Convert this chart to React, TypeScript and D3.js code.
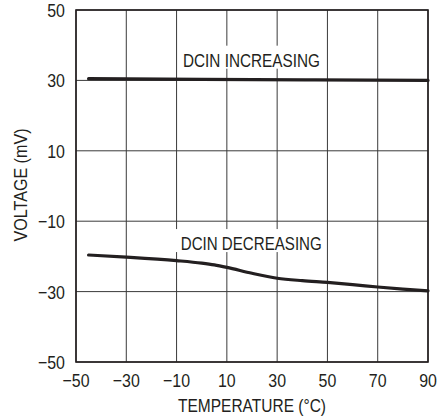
import React from "react";
import * as d3 from "d3";

const xTicks = [-50, -30, -10, 10, 30, 50, 70, 90];
const yTicks = [50, 30, 10, -10, -30, -50];

const incTemp = [-45, 0, 45, 90];
const incVolt = [30.5, 30.3, 30.15, 30.0];

const decTemp = [-45, -30, -10, 0, 5, 10, 20, 30, 40, 50, 60, 70, 80, 90];
const decVolt = [-19.6, -20.2, -21.2, -21.9, -22.4, -23.1, -24.8, -26.2, -26.9, -27.4, -28.0, -28.7, -29.3, -29.8];

const labels = [
  { text: "DCIN INCREASING", t: 19.8, v: 33.9, len: 137 },
  { text: "DCIN DECREASING", t: 19.7, v: -18.2, len: 141 },
];

const FONT = "'Liberation Sans', Arial, sans-serif";
const INK = "#231f20";
const SX = 0.84;

function T(props: { x: number; y: number; anchor?: string; sx?: number; children: React.ReactNode }) {
  const sx = props.sx ?? SX;
  return (
    <text
      transform={`translate(${props.x},${props.y}) scale(${sx},1)`}
      textAnchor={props.anchor ?? "middle"}
      fontSize={19}
      fill={INK}
    >
      {props.children}
    </text>
  );
}

const fmt = (t: number) => (t < 0 ? "\u2212" + Math.abs(t) : String(t));

export default function App() {
  const W = 439, H = 420;
  const left = 76, right = 428, top = 10, bottom = 362;
  const x = d3.scaleLinear().domain([-50, 90]).range([left, right]);
  const y = d3.scaleLinear().domain([-50, 50]).range([bottom, top]);
  const incPath = d3.line<number>().x((_, i) => x(incTemp[i])).y((d) => y(d)).curve(d3.curveMonotoneX)(incVolt) || "";
  const decPath = d3.line<number>().x((_, i) => x(decTemp[i])).y((d) => y(d)).curve(d3.curveMonotoneX)(decVolt) || "";
  return (
    <svg width={W} height={H} style={{ position: "absolute", left: 0, top: 0, background: "#fff" }} fontFamily={FONT}>
      <rect x={0} y={0} width={W} height={H} fill="#fff" />
      {xTicks.map((t) => (
        <line key={"gx" + t} x1={x(t)} x2={x(t)} y1={top} y2={bottom} stroke="#3a3a3a" strokeWidth={1} />
      ))}
      {yTicks.map((t) => (
        <line key={"gy" + t} x1={left} x2={right} y1={y(t)} y2={y(t)} stroke="#3a3a3a" strokeWidth={1} />
      ))}
      {labels.map((l) => (
        <g key={l.text}>
          <rect x={x(l.t) - l.len / 2 - 5} y={y(l.v) - 21} width={l.len + 8} height={23} fill="#fff" />
          <text x={x(l.t)} y={y(l.v)} textAnchor="middle" fontSize={19} fill={INK} textLength={l.len} lengthAdjust="spacingAndGlyphs">
            {l.text}
          </text>
        </g>
      ))}
      <path d={incPath} fill="none" stroke={INK} strokeWidth={3.2} strokeLinecap="round" />
      <path d={decPath} fill="none" stroke={INK} strokeWidth={3.2} strokeLinecap="round" />
      <rect x={left} y={top} width={right - left} height={bottom - top} fill="none" stroke={INK} strokeWidth={1.6} />
      {xTicks.map((t) => (
        <T key={"tx" + t} x={x(t)} y={386.5}>{fmt(t)}</T>
      ))}
      {yTicks.map((t) => (
        <T key={"ty" + t} x={65} y={y(t) + 7} anchor="end">{fmt(t)}</T>
      ))}
      <text x={252} y={412} textAnchor="middle" fontSize={19} fill={INK} textLength={148} lengthAdjust="spacingAndGlyphs">
        TEMPERATURE (°C)
      </text>
      <text transform="translate(27,185) rotate(-90)" textAnchor="middle" fontSize={19} fill={INK} textLength={113} lengthAdjust="spacingAndGlyphs">
        VOLTAGE (mV)
      </text>
    </svg>
  );
}
